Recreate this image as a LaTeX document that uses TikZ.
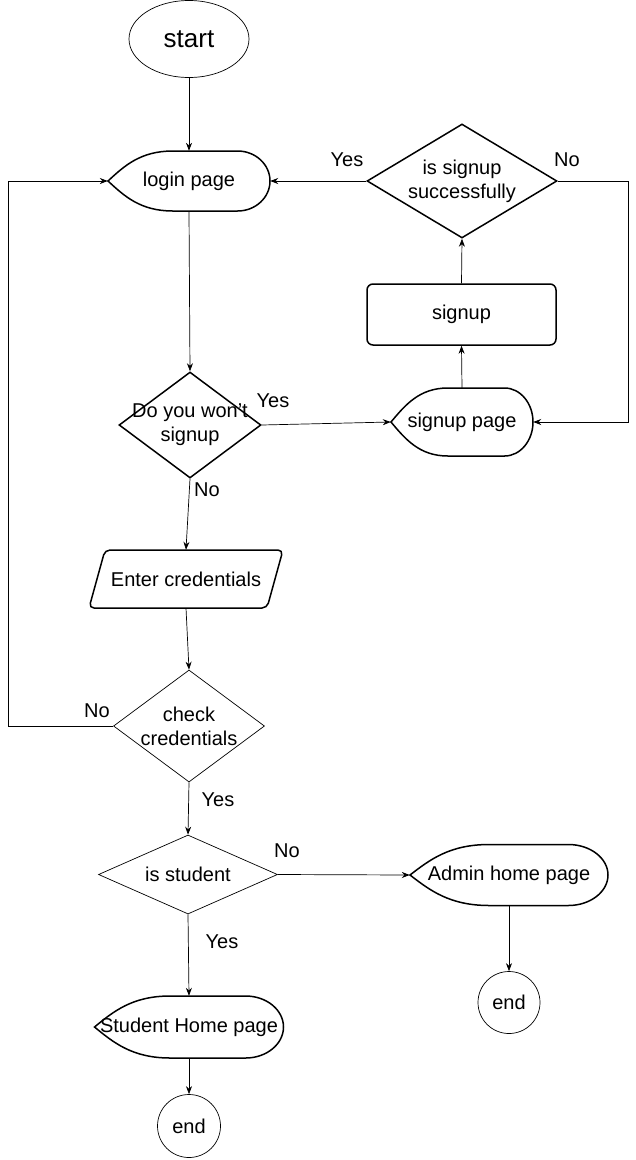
\documentclass[tikz,border=0pt]{standalone}
\usepackage{fontspec}
\setmainfont{Liberation Sans}
\usetikzlibrary{shapes.geometric,arrows.meta}

% outline of a display box: node name, width, height
\newcommand{\dispshape}[3]{%
  \draw[line width=1.5pt, shift={(#1.center)}]
    (-0.5*#2,0) .. controls (-0.4*#2,-0.25*#3) and (-0.3*#2,-0.5*#3) .. (-0.1*#2,-0.5*#3)
    -- (0.3*#2,-0.5*#3)
    .. controls (0.41*#2,-0.5*#3) and (0.5*#2,-0.276*#3) .. (0.5*#2,0)
    .. controls (0.5*#2,0.276*#3) and (0.41*#2,0.5*#3) .. (0.3*#2,0.5*#3)
    -- (-0.1*#2,0.5*#3)
    .. controls (-0.3*#2,0.5*#3) and (-0.4*#2,0.25*#3) .. cycle;
}
% outline of an input box: node name, width, height
\newcommand{\ioshape}[3]{%
  \draw[line width=1.5pt, rounded corners=5pt, shift={(#1.center)}]
    (-0.5*#2+16,-0.5*#3) -- (0.5*#2,-0.5*#3) -- (0.5*#2-16,0.5*#3)
    -- (-0.5*#2,0.5*#3) -- cycle;
}

\begin{document}
\begin{tikzpicture}[x=1pt,y=-1pt,
    every node/.style={inner sep=0pt, align=center, font=\fontsize{20}{24}\selectfont},
    term/.style={ellipse, draw, line width=0.7pt},
    disp/.style={rectangle},
    decision/.style={diamond, draw, line width=0.7pt},
    process/.style={rectangle, draw, rounded corners=6pt, line width=1.5pt},
    arr/.style={-{Stealth[length=8pt,width=6pt]}, line width=0.7pt}]
  \useasboundingbox (0,0) rectangle (636,1160);

  % nodes
  \node[term, minimum width=120, minimum height=77, font=\fontsize{26}{30}\selectfont] (start) at (189,39) {start};
  \node[disp, minimum width=162, minimum height=60] (login) at (189,181) {login page};
  \node[decision, line width=1.5pt, minimum width=190, minimum height=114] (sigdec) at (462,181) {};
  \node (sigdect) at (sigdec) {is signup\\successfully};
  \node[process, minimum width=189, minimum height=61] (signup) at (461.5,314.5) {signup};
  \node[disp, minimum width=142, minimum height=68] (sigpage) at (462,422) {signup page};
  \node[decision, line width=1.5pt, minimum width=142, minimum height=106] (dosign) at (190,425) {};
  \node (dosignt) at (dosign) {Do you won't\\signup};
  \node[disp, minimum width=194, minimum height=58] (cred) at (186,579) {Enter credentials};
  \node[decision, minimum width=151, minimum height=112] (check) at (189,726) {};
  \node (checkt) at (check) {check\\credentials};
  \node[decision, minimum width=179, minimum height=79] (isstu) at (188,874.5) {};
  \node (isstut) at (isstu) {is student};
  \node[disp, minimum width=198, minimum height=61] (admin) at (509,875) {Admin home page};
  \node[circle, draw, line width=0.7pt, minimum size=62] (endb) at (509,1002.5) {end};
  \node[disp, minimum width=189, minimum height=62] (student) at (189,1027) {Student Home page};
  \node[circle, draw, line width=0.7pt, minimum size=63] (enda) at (189,1126) {end};

  \dispshape{login}{162}{60}
  \dispshape{sigpage}{142}{68}
  \dispshape{admin}{198}{61}
  \dispshape{student}{189}{62}
  \ioshape{cred}{194}{58}

  % connectors
  \draw[arr] (start) -- (login);
  \draw[arr] (sigdec.west) -- (login.east);
  \draw[arr] (sigdec.east) -- ++(71,0) |- (sigpage.east);
  \draw[arr] (signup.north) -- (sigdec.south);
  \draw[arr] (sigpage.north) -- (signup.south);
  \draw[arr] (login.south) -- (dosign.north);
  \draw[arr] (dosign.east) -- (sigpage.west);
  \draw[arr] (dosign.south) -- (cred.north);
  \draw[arr] (cred.south) -- (check.north);
  \draw[arr] (check.west) -- ++(-105,0) |- (login.west);
  \draw[arr] (check.south) -- (isstu.north);
  \draw[arr] (isstu.east) -- (admin.west);
  \draw[arr] (admin.south) -- (endb.north);
  \draw[arr] (isstu.south) -- (student.north);
  \draw[arr] (student.south) -- (enda.north);

  % branch labels
  \node (yes1) at (347,160) {Yes};
  \node (no1) at (567,160) {No};
  \node (yes2) at (273,401) {Yes};
  \node (no2) at (207,490) {No};
  \node (no3) at (97,711) {No};
  \node (yes3) at (218,800) {Yes};
  \node (no4) at (287,851) {No};
  \node (yes4) at (222,942) {Yes};
\end{tikzpicture}
\end{document}
